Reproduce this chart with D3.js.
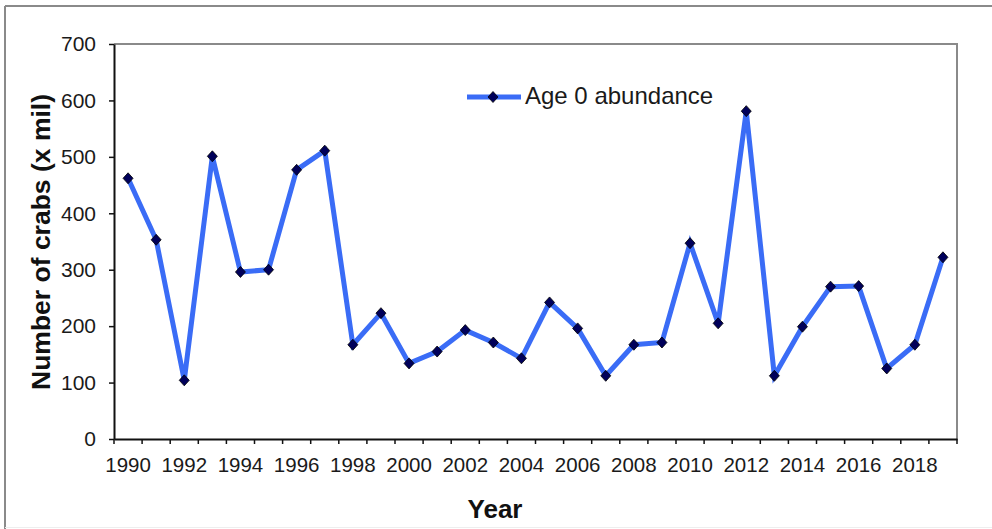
<!DOCTYPE html>
<html>
<head>
<meta charset="utf-8">
<script src="https://cdn.jsdelivr.net/npm/d3@7"></script>
<style>
  html, body { margin: 0; padding: 0; background: #fff; }
  svg { display: block; font-family: "Liberation Sans", Arial, sans-serif; }
</style>
</head>
<body>
<svg id="chart" width="992" height="529"></svg>
<script>
const years = [1990,1991,1992,1993,1994,1995,1996,1997,1998,1999,2000,2001,2002,2003,2004,2005,2006,2007,2008,2009,2010,2011,2012,2013,2014,2015,2016,2017,2018,2019];
const abundance = [462,353,104,501,296,300,477,511,167,223,134,155,193,171,143,242,196,112,167,171,347,205,581,112,199,270,271,125,167,322];
const yTicks = [0,100,200,300,400,500,600,700];
const xTickLabels = [1990,1992,1994,1996,1998,2000,2002,2004,2006,2008,2010,2012,2014,2016,2018];
const seriesName = "Age 0 abundance";
const xTitle = "Year";
const yTitle = "Number of crabs (x mil)";

const svg = d3.select("#chart");
const L = 114, R = 957, T = 44, B = 439;

// outer frame
svg.append("line").attr("x1",5).attr("x2",5).attr("y1",6).attr("y2",529).attr("stroke","#8a8a8a").attr("stroke-width",2);
svg.append("line").attr("x1",5).attr("x2",992).attr("y1",6).attr("y2",6).attr("stroke","#8a8a8a").attr("stroke-width",2);
svg.append("line").attr("x1",5).attr("x2",992).attr("y1",527.5).attr("y2",527.5).attr("stroke","#eeeeee").attr("stroke-width",1);

const x = d3.scaleBand().domain(years).range([L, R]).padding(0);
const y = d3.scaleLinear().domain([0, 700]).range([B, T]);

// plot frame top & right (gray)
svg.append("path")
  .attr("d", `M${L},${T}H${R}V${B}`)
  .attr("fill","none").attr("stroke","#8a8a8a").attr("stroke-width",2);

// y axis
const yAxis = svg.append("g").attr("transform",`translate(${L},0)`)
  .call(d3.axisLeft(y).tickValues(yTicks).tickSize(5).tickPadding(13).tickSizeOuter(0));
yAxis.select(".domain").attr("stroke","#111").attr("stroke-width",2);
yAxis.selectAll(".tick line").attr("stroke","#111").attr("stroke-width",1.5);
yAxis.selectAll(".tick text").attr("font-size",21).attr("fill","#1a1a1a").attr("font-family","Liberation Sans, Arial, sans-serif");

// x axis labels
const xAxis = svg.append("g").attr("transform",`translate(0,${B})`)
  .call(d3.axisBottom(x).tickValues(xTickLabels).tickSize(0).tickPadding(18).tickSizeOuter(0));
xAxis.select(".domain").attr("stroke","#111").attr("stroke-width",2);
xAxis.selectAll(".tick text").attr("font-size",20.5).attr("fill","#1a1a1a").attr("font-family","Liberation Sans, Arial, sans-serif");

// x boundary ticks
const boundaries = years.map(d => x(d)).concat([x(years[years.length-1]) + x.bandwidth()]);
svg.append("g").selectAll("line").data(boundaries).join("line")
  .attr("x1", d => d).attr("x2", d => d)
  .attr("y1", B).attr("y2", B + 5)
  .attr("stroke","#111").attr("stroke-width",1.5);

// titles
svg.append("text").attr("x", 495).attr("y", 518).attr("text-anchor","middle")
  .attr("font-size",26).attr("font-weight","bold").attr("fill","#111").text(xTitle);
svg.append("text").attr("transform","translate(50,242) rotate(-90)").attr("text-anchor","middle")
  .attr("font-size",26.5).attr("font-weight","bold").attr("fill","#111").text(yTitle);

// series
const data = years.map((yr, i) => ({yr, v: abundance[i]}));
const cx = d => x(d.yr) + x.bandwidth()/2;
const lineColor = "#3a6cf6";
svg.append("path").datum(data)
  .attr("d", d3.line().x(cx).y(d => y(d.v)))
  .attr("fill","none").attr("stroke",lineColor).attr("stroke-width",5).attr("stroke-linejoin","miter");

const diamondPath = (px, py) => `M${px},${py-5.5}L${px+5},${py}L${px},${py+5.5}L${px-5},${py}Z`;
svg.append("g").selectAll("path").data(data).join("path")
  .attr("d", d => diamondPath(cx(d), y(d.v)))
  .attr("fill","#00005a").attr("stroke","#000").attr("stroke-width",0.8);

// legend
svg.append("line").attr("x1",467).attr("x2",521).attr("y1",97).attr("y2",97)
  .attr("stroke",lineColor).attr("stroke-width",5);
svg.append("path").attr("d", diamondPath(493, 97)).attr("fill","#00005a").attr("stroke","#000").attr("stroke-width",0.8);
svg.append("text").attr("x",525).attr("y",104).attr("font-size",24).attr("fill","#1a1a1a").text(seriesName);
</script>
</body>
</html>
